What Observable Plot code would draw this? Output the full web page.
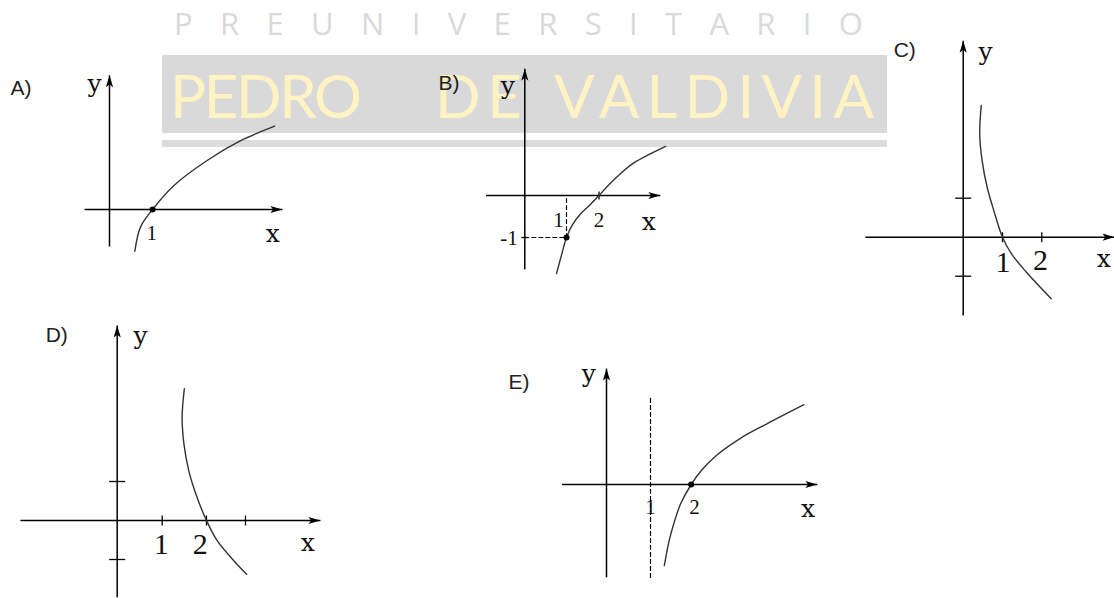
<!DOCTYPE html>
<html>
<head>
<meta charset="utf-8">
<script src="https://cdn.jsdelivr.net/npm/d3@7"></script>
<script src="https://cdn.jsdelivr.net/npm/@observablehq/plot@0.6"></script>
<style>
  html, body { margin: 0; padding: 0; background: #fff; }
  #sheet { position: relative; width: 1114px; height: 598px; overflow: hidden; }
  #sheet > svg { position: absolute; left: 0; top: 0; }
</style>
</head>
<body>
<div id="sheet">
  <svg id="banner" width="1114" height="598" aria-hidden="true">
    <g font-family="Open Sans" font-size="31" fill="#d9d9d9">
      <text x="174" y="35" textLength="689" lengthAdjust="spacing">PREUNIVERSITARIO</text>
    </g>
    <rect x="162" y="55" width="725" height="78" fill="#d9d9d9"></rect>
    <g font-family="Lato" font-size="60" fill="#fff3c4">
      <text x="170" y="118" textLength="192" lengthAdjust="spacing">PEDRO</text>
      <text x="435" y="118" textLength="87" lengthAdjust="spacing">DE</text>
      <text x="554" y="118" textLength="320" lengthAdjust="spacing">VALDIVIA</text>
    </g>
    <rect x="162" y="140" width="725" height="7" fill="#dcdcdc"></rect>
  </svg>
</div>
<script>
// Five candidate graphs of logarithmic functions, labelled A) to E).
// Every value below is in the panel's own (x, y) units.

const titles = ["A)", "B)", "C)", "D)", "E)"];

// Curves
const curveA = [[0.59, -0.97], [0.72, -0.41], [1, 0], [1.5, 0.56], [2.27, 1.14], [3.05, 1.6], [3.84, 1.94]];
const curveB = [[0.76, -1.86], [0.88, -1.42], [1, -1], [1.18, -0.7], [1.43, -0.44], [1.71, -0.23], [2, 0], [2.32, 0.27], [2.66, 0.52], [3.06, 0.77], [3.58, 0.99], [4.05, 1.17]];
const curveC = [[0.46, 3.38], [0.42, 2.65], [0.48, 1.97], [0.61, 1.28], [0.78, 0.68], [1, 0], [1.23, -0.43], [1.61, -0.9], [2.24, -1.58]];
const curveD = [[1.5, 3.38], [1.45, 2.65], [1.49, 1.97], [1.6, 1.28], [1.76, 0.68], [2, 0], [2.27, -0.51], [2.7, -1.03], [3.03, -1.38]];
const curveE = [[1.34, -1.93], [1.45, -1.37], [1.57, -0.94], [1.74, -0.46], [2, 0], [2.28, 0.37], [2.64, 0.71], [3.21, 1.1], [3.87, 1.45], [4.77, 1.9]];

// Axis extents (from, to) for A..E; the arrow sits at the "to" end
const xAxisSpan = [[-0.58, 4.02], [-0.93, 3.89], [-2.49, 3.85], [-2.15, 4.92], [-1.01, 5.1]];
const yAxisSpan = [[-0.86, 3.12], [-1.76, 3.02], [-2.01, 5.04], [-1.97, 5.0], [-2.21, 2.76]];

// Tick positions on each axis
const xTicks = [[], [2], [1, 2], [1, 2, 3], []];
const yTicks = [[], [-1], [1, -1], [1, -1], []];

// Marked points on the curves
const pointsA = [[1, 0]];
const pointsB = [[1, -1]];
const pointsE = [[2, 0]];

// Dashed guide lines
const guidesB = [[[1, -1], [1, 0]], [[0, -1], [1, -1]]];
const guidesE = [[[1, 2.05], [1, -2.24]]];

// Label anchors
const titleSpots = [[-2.3, 2.83], [-2.07, 2.68], [-1.77, 4.79], [-1.59, 4.74], [-2.23, 2.44]];
const axisNames = [
  [{text: "y", x: -0.35, y: 2.93}, {text: "x", x: 3.8, y: -0.57}],
  [{text: "y", x: -0.41, y: 2.6}, {text: "x", x: 3.53, y: -0.62}],
  [{text: "y", x: 0.57, y: 4.75}, {text: "x", x: 3.58, y: -0.55}],
  [{text: "y", x: 0.52, y: 4.72}, {text: "x", x: 4.6, y: -0.58}],
  [{text: "y", x: -0.4, y: 2.62}, {text: "x", x: 4.87, y: -0.58}]
];
const numerals = [
  [{text: "1", x: 0.98, y: -0.56}],
  [{text: "1", x: 0.81, y: -0.58}, {text: "2", x: 2.0, y: -0.58}, {text: "-1", x: -0.38, y: -1.03}],
  [{text: "1", x: 1.01, y: -0.65}, {text: "2", x: 1.97, y: -0.6}],
  [{text: "1", x: 0.98, y: -0.6}, {text: "2", x: 1.86, y: -0.6}],
  [{text: "1", x: 1, y: -0.54}, {text: "2", x: 2.08, y: -0.54}]
];

// Hand-drawn axes: the unit marks are not evenly spaced on some panels,
// so x values pass through a piecewise warp before the linear scale.
const warp = (domain, range) => d3.scaleLinear(domain, range);

// Where each panel's units land on the page
const frames = [
  {x: {domain: [0, 1], range: [109, 152]}, y: {domain: [0, 1], range: [209, 166]}},
  {x: {domain: [0, 1], range: [524.3, 566], transform: warp([0, 1, 2], [0, 1, 1.779])}, y: {domain: [0, 1], range: [195, 153]}},
  {x: {domain: [0, 1], range: [962.7, 1002]}, y: {domain: [0, 1], range: [236.7, 197.7]}},
  {x: {domain: [0, 1], range: [116.7, 161.7], transform: warp([0, 1, 2, 3], [0, 1, 1.984, 2.851])}, y: {domain: [0, 1], range: [520, 481]}},
  {x: {domain: [0, 1], range: [606, 650], transform: warp([0, 1, 2], [0, 1, 1.925])}, y: {domain: [0, 1], range: [484, 442]}}
];
const numeralSize = [21, 21, 30, 30, 21];
const xTickSize = [0, 4, 5, 5, 0];
const yTickSize = [0, 3.5, 8, 8, 0];

const panels = titles.map((title, i) => ({
  title: {text: title, x: titleSpots[i][0], y: titleSpots[i][1]},
  curve: [curveA, curveB, curveC, curveD, curveE][i],
  points: [pointsA, pointsB, [], [], pointsE][i],
  guides: [[], guidesB, [], [], guidesE][i],
  xSpan: xAxisSpan[i],
  ySpan: yAxisSpan[i],
  xTicks: xTicks[i],
  yTicks: yTicks[i],
  names: axisNames[i],
  numbers: numerals[i],
  frame: frames[i],
  numeral: numeralSize[i],
  xTick: xTickSize[i],
  yTick: yTickSize[i]
}));

// Slim arrowhead whose tip sits on the symbol origin, pointing up
const arrowHead = {
  draw(context, size) {
    const r = Math.sqrt(size / Math.PI);
    context.moveTo(0, 0);
    context.lineTo(-0.9 * r, 3 * r);
    context.lineTo(0, 2.3 * r);
    context.lineTo(0.9 * r, 3 * r);
    context.closePath();
  }
};

// Short vertical stroke for axis ticks
const tickMark = {
  draw(context, size) {
    const r = Math.sqrt(size / Math.PI);
    context.moveTo(0, -r);
    context.lineTo(0, r);
  }
};

function drawPanel(p) {
  const [x0, x1] = p.xSpan;
  const [y0, y1] = p.ySpan;
  const axes = [
    {x1: x0, y1: 0, x2: x1, y2: 0},
    {x1: 0, y1: y0, x2: 0, y2: y1}
  ];
  return Plot.plot({
    width: 1114,
    height: 598,
    margin: 0,
    x: {...p.frame.x, axis: null},
    y: {...p.frame.y, axis: null},
    style: {background: "none", overflow: "visible"},
    marks: [
      Plot.link(axes, {x1: "x1", y1: "y1", x2: "x2", y2: "y2", stroke: "#000", strokeWidth: 1.5}),
      Plot.dot([[x1, 0]], {x: (d) => d[0], y: (d) => d[1], symbol: arrowHead, r: 4, rotate: 90, fill: "#000", stroke: "none"}),
      Plot.dot([[0, y1]], {x: (d) => d[0], y: (d) => d[1], symbol: arrowHead, r: 4, rotate: 0, fill: "#000", stroke: "none"}),
      Plot.dot(p.xTicks, {x: (d) => d, y: 0, symbol: tickMark, r: p.xTick || 1, fill: "none", stroke: "#000", strokeWidth: 1.3}),
      Plot.dot(p.yTicks, {x: 0, y: (d) => d, symbol: tickMark, r: p.yTick || 1, rotate: 90, fill: "none", stroke: "#000", strokeWidth: 1.3}),
      ...p.guides.map((g) => Plot.line(g, {stroke: "#000", strokeWidth: 1.2, strokeDasharray: "4,3"})),
      Plot.line(p.curve, {curve: "catmull-rom", stroke: "#333", strokeWidth: 1.4}),
      Plot.dot(p.points, {x: (d) => d[0], y: (d) => d[1], r: 3, fill: "#000", stroke: "none"}),
      Plot.text([p.title], {x: "x", y: "y", text: "text", textAnchor: "start", fontFamily: "Liberation Sans", fontSize: 21, fill: "#222", ariaLabel: "panel title"}),
      Plot.text(p.names, {x: "x", y: "y", text: "text", fontFamily: "DejaVu Serif", fontSize: 25, fill: "#111"}),
      Plot.text(p.numbers, {x: "x", y: "y", text: "text", fontFamily: "Liberation Serif", fontSize: p.numeral, fill: "#111"})
    ]
  });
}

const sheet = document.getElementById("sheet");
for (const p of panels) {
  const svg = drawPanel(p);
  d3.select(svg).selectAll('g[aria-label="panel title"] text').attr("letter-spacing", "4px");
  sheet.appendChild(svg);
}
</script>
</body>
</html>
